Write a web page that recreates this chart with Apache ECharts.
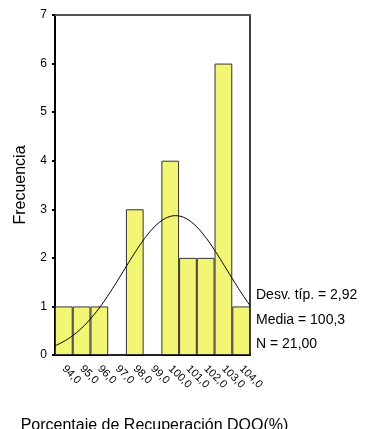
<!DOCTYPE html>
<html>
<head>
<meta charset="utf-8">
<script src="https://cdn.jsdelivr.net/npm/echarts@6/dist/echarts.min.js"></script>
<style>
  html, body { margin: 0; padding: 0; background: #fff; }
  #chart { width: 365px; height: 429px; }
</style>
</head>
<body>
<div id="chart"></div>
<script>
// Histogram bins (bin centres) and their counts
const binLabels = ['94,0', '95,0', '96,0', '97,0', '98,0', '99,0', '100,0', '101,0', '102,0', '103,0', '104,0'];
const binCenters = [94, 95, 96, 97, 98, 99, 100, 101, 102, 103, 104];
const counts = [1, 1, 1, 0, 3, 0, 4, 2, 2, 6, 1];
const freqMax = 7;

// Summary statistics shown beside the plot
const stdDev = 2.92;
const mean = 100.3;
const nObs = 21;
const statLines = ['Desv. típ. = 2,92', 'Media = 100,3', 'N = 21,00'];

// Fitted normal curve scaled to the histogram (bin width 1)
const binWidth = 1;
const xMin = binCenters[0] - binWidth / 2;
const xMax = binCenters[binCenters.length - 1] + binWidth / 2;
const normalCurve = [];
for (let i = 0; i <= 220; i++) {
  const x = xMin + (xMax - xMin) * i / 220;
  const z = (x - mean) / stdDev;
  const y = nObs * binWidth / (stdDev * Math.sqrt(2 * Math.PI)) * Math.exp(-0.5 * z * z);
  normalCurve.push([x, y]);
}

const font = 'Liberation Sans, Arial, sans-serif';
const chart = echarts.init(document.getElementById('chart'), null, { renderer: 'canvas' });

chart.setOption({
  animation: false,
  backgroundColor: '#ffffff',
  grid: {
    left: 55, right: 115, top: 15, bottom: 74,
    containLabel: false, outerBoundsMode: 'none'
  },
  xAxis: [
    {
      type: 'category',
      data: binLabels,
      position: 'bottom',
      boundaryGap: true,
      name: 'Porcentaje de Recuperación DQO(%)',
      nameLocation: 'middle',
      nameGap: 63,
      nameTextStyle: { fontFamily: font, fontSize: 16, color: '#000', padding: [0, 0, 0, 4] },
      axisLine: { lineStyle: { color: '#000', width: 2 } },
      axisTick: { alignWithLabel: true, length: 4, lineStyle: { color: '#000', width: 2 } },
      axisLabel: { rotate: -45, margin: 12, fontFamily: font, fontSize: 11, color: '#000', interval: 0 },
      splitLine: { show: false }
    },
    {
      // value scale for the fitted curve; its line closes the top of the frame
      type: 'value',
      min: xMin,
      max: xMax,
      position: 'top',
      show: true,
      axisLine: { show: true, onZero: false, lineStyle: { color: '#555', width: 2 } },
      axisTick: { show: false },
      axisLabel: { show: false },
      splitLine: { show: false }
    }
  ],
  yAxis: [
    {
      type: 'value',
      min: 0,
      max: freqMax,
      interval: 1,
      position: 'left',
      name: 'Frecuencia',
      nameLocation: 'middle',
      nameRotate: 90,
      nameGap: 26,
      nameTextStyle: { fontFamily: font, fontSize: 16, color: '#000' },
      axisLine: { show: true, onZero: false, lineStyle: { color: '#000', width: 2 } },
      axisTick: { show: true, length: 3, lineStyle: { color: '#000', width: 2 } },
      axisLabel: { margin: 8, fontFamily: font, fontSize: 12, color: '#000' },
      splitLine: { show: false }
    },
    {
      type: 'value',
      min: 0,
      max: freqMax,
      position: 'right',
      axisLine: { show: true, onZero: false, lineStyle: { color: '#000', width: 1.5 } },
      axisTick: { show: false },
      axisLabel: { show: false },
      splitLine: { show: false }
    }
  ],
  series: [
    {
      type: 'bar',
      xAxisIndex: 0,
      yAxisIndex: 0,
      data: counts,
      barWidth: '100%',
      barCategoryGap: 0,
      itemStyle: { color: '#f3f574', borderColor: '#333', borderWidth: 1 },
      z: 2
    },
    {
      type: 'line',
      xAxisIndex: 1,
      yAxisIndex: 0,
      data: normalCurve,
      showSymbol: false,
      symbol: 'none',
      lineStyle: { color: '#000', width: 1 },
      z: 3
    }
  ],
  graphic: statLines.map((t, i) => ({
    type: 'text',
    left: 256,
    top: [296, 321, 345][i] - 8,
    style: { text: t, font: '14px ' + font, fill: '#000' }
  }))
});
</script>
</body>
</html>
